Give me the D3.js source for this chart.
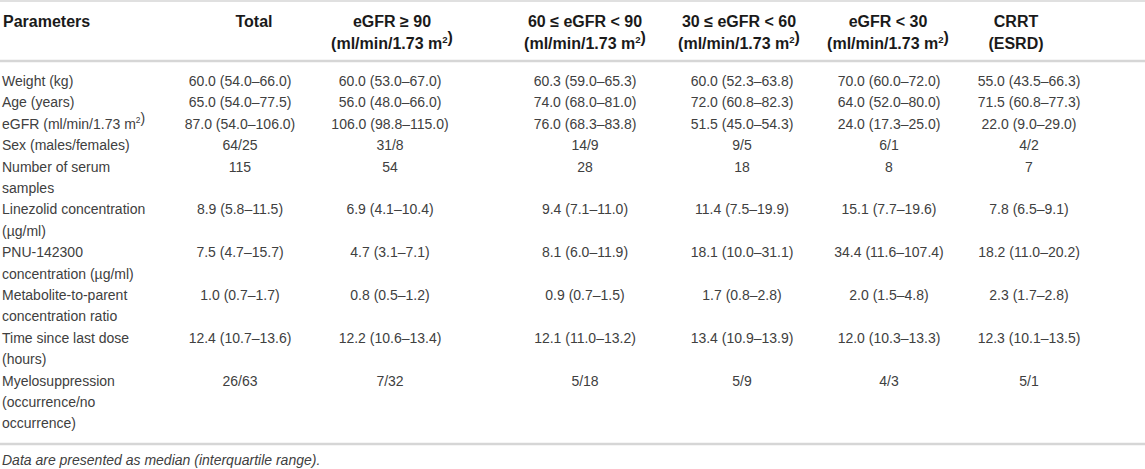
<!DOCTYPE html>
<html>
<head>
<meta charset="utf-8">
<script src="https://cdn.jsdelivr.net/npm/d3@7"></script>
<style>
  html, body { margin: 0; padding: 0; background: #fff; }
  svg { display: block; font-family: "Liberation Sans", Arial, Helvetica, sans-serif; }
</style>
</head>
<body>
<svg id="tbl"></svg>
<script>
// column groups (header line 1 / line 2)
const groups = ["Total", "eGFR ≥ 90", "60 ≤ eGFR < 90", "30 ≤ eGFR < 60", "eGFR < 30", "CRRT"];
const groupSub = ["", "(ml/min/1.73 m^2)", "(ml/min/1.73 m^2)", "(ml/min/1.73 m^2)", "(ml/min/1.73 m^2)", "(ESRD)"];

// row labels, wrapped as in the source
const params = [
  ["Weight (kg)"],
  ["Age (years)"],
  ["eGFR (ml/min/1.73 m^2)"],
  ["Sex (males/females)"],
  ["Number of serum", "samples"],
  ["Linezolid concentration", "(µg/ml)"],
  ["PNU-142300", "concentration (µg/ml)"],
  ["Metabolite-to-parent", "concentration ratio"],
  ["Time since last dose", "(hours)"],
  ["Myelosuppression", "(occurrence/no", "occurrence)"]
];

const totalVals = ["60.0 (54.0–66.0)", "65.0 (54.0–77.5)", "87.0 (54.0–106.0)", "64/25", "115", "8.9 (5.8–11.5)", "7.5 (4.7–15.7)", "1.0 (0.7–1.7)", "12.4 (10.7–13.6)", "26/63"];
const egfr90Vals = ["60.0 (53.0–67.0)", "56.0 (48.0–66.0)", "106.0 (98.8–115.0)", "31/8", "54", "6.9 (4.1–10.4)", "4.7 (3.1–7.1)", "0.8 (0.5–1.2)", "12.2 (10.6–13.4)", "7/32"];
const egfr60Vals = ["60.3 (59.0–65.3)", "74.0 (68.0–81.0)", "76.0 (68.3–83.8)", "14/9", "28", "9.4 (7.1–11.0)", "8.1 (6.0–11.9)", "0.9 (0.7–1.5)", "12.1 (11.0–13.2)", "5/18"];
const egfr30Vals = ["60.0 (52.3–63.8)", "72.0 (60.8–82.3)", "51.5 (45.0–54.3)", "9/5", "18", "11.4 (7.5–19.9)", "18.1 (10.0–31.1)", "1.7 (0.8–2.8)", "13.4 (10.9–13.9)", "5/9"];
const egfrLowVals = ["70.0 (60.0–72.0)", "64.0 (52.0–80.0)", "24.0 (17.3–25.0)", "6/1", "8", "15.1 (7.7–19.6)", "34.4 (11.6–107.4)", "2.0 (1.5–4.8)", "12.0 (10.3–13.3)", "4/3"];
const crrtVals = ["55.0 (43.5–66.3)", "71.5 (60.8–77.3)", "22.0 (9.0–29.0)", "4/2", "7", "7.8 (6.5–9.1)", "18.2 (11.0–20.2)", "2.3 (1.7–2.8)", "12.3 (10.1–13.5)", "5/1"];
const columns = [totalVals, egfr90Vals, egfr60Vals, egfr30Vals, egfrLowVals, crrtVals];

const footnote = "Data are presented as median (interquartile range).";

const W = 1145, H = 469;
const FS = 14, FH = 16;
const svg = d3.select("#tbl").attr("width", W).attr("height", H);

// column centres (header / body differ slightly in first and last column)
const xHead = d3.scaleOrdinal().domain(groups).range([254, 392, 585, 739, 888, 1016]);
const xBody = d3.scaleOrdinal().domain(groups).range([240, 390, 585, 742, 889, 1029]);

// text line index -> baseline y
const totalLines = d3.sum(params, (p) => p.length);
const y = d3.scaleLinear().domain([0, totalLines - 1]).range([86, 86 + 21.4 * (totalLines - 1)]);

// text with "^2" rendered as superscript
function richText(sel, str, fs) {
  const parts = str.split("^2");
  parts.forEach((p, i) => {
    sel.append("tspan").text(p);
    if (i < parts.length - 1) {
      sel.append("tspan").attr("font-size", fs * 0.6).attr("dy", -fs * 0.4).text("2");
      sel.append("tspan").attr("dy", fs * 0.4).text("");
    }
  });
}

// rules
const rules = [{ y: 1, w: 1.5 }, { y: 61, w: 2.5 }, { y: 444, w: 2.5 }];
svg.selectAll("line.rule").data(rules).join("line")
  .attr("class", "rule")
  .attr("x1", 0).attr("x2", W)
  .attr("y1", (d) => d.y).attr("y2", (d) => d.y)
  .attr("stroke", "#d6d6d6").attr("stroke-width", (d) => d.w);

// header
const head = svg.append("g").attr("font-weight", "bold").attr("font-size", FH).attr("fill", "#1a1a1a");
head.append("text").attr("x", 3).attr("y", 27).text("Parameters");
groups.forEach((g, i) => {
  head.append("text").attr("x", xHead(g)).attr("y", 27).attr("text-anchor", "middle").text(g);
  if (groupSub[i]) {
    const t = head.append("text").attr("x", xHead(g)).attr("y", 49).attr("text-anchor", "middle");
    richText(t, groupSub[i], FH);
  }
});

// body
const body = svg.append("g").attr("font-size", FS).attr("fill", "#404040");
let line = 0;
params.forEach((p, r) => {
  p.forEach((txt, k) => {
    const t = body.append("text").attr("x", 2).attr("y", y(line + k));
    richText(t, txt, FS);
  });
  columns.forEach((vals, c) => {
    body.append("text")
      .attr("x", xBody(groups[c]))
      .attr("y", y(line))
      .attr("text-anchor", "middle")
      .text(vals[r]);
  });
  line += p.length;
});

svg.append("text")
  .attr("x", 2).attr("y", 465)
  .attr("font-size", FS).attr("font-style", "italic").attr("fill", "#404040")
  .text(footnote);
</script>
</body>
</html>
